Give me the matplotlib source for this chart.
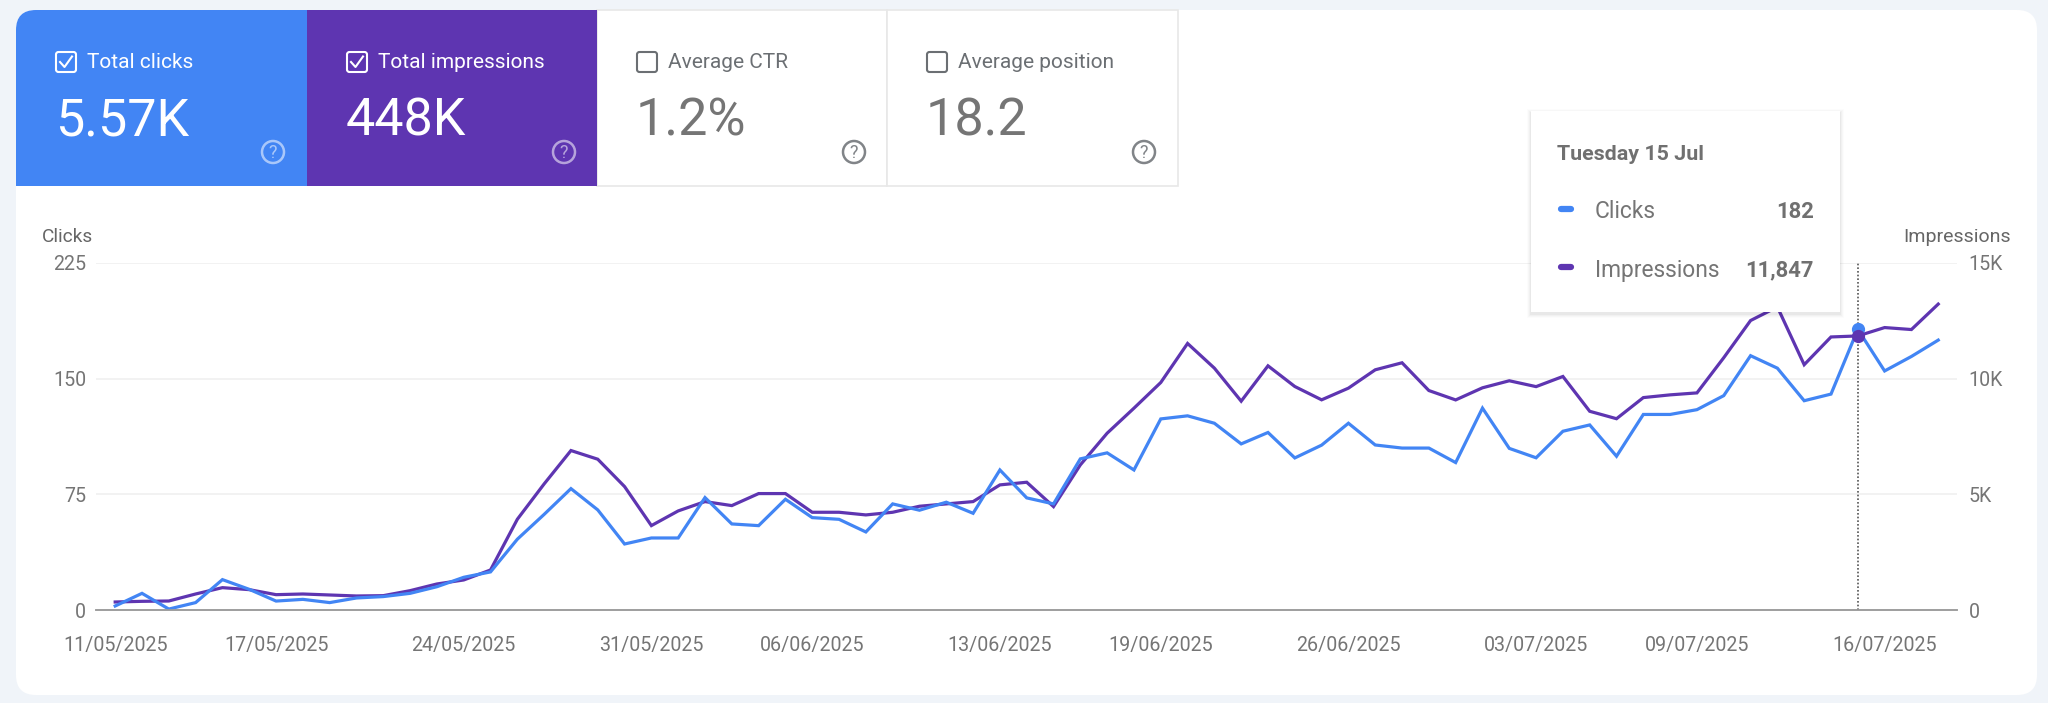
import matplotlib
matplotlib.use("Agg")
import matplotlib.pyplot as plt
import pandas as pd
from matplotlib.patches import Circle, FancyBboxPatch, Rectangle

plt.rcParams['font.family'] = ['Roboto', 'DejaVu Sans']

# Daily values, 11 May to 18 Jul 2025
clicks = [2.6, 10.8, 0.6, 4.8, 19.7, 13.4, 5.8, 6.9, 4.8, 7.8,
          8.7, 10.8, 15.1, 21.2, 24.7, 45.9, 62, 78.7, 64.9, 42.8,
          46.7, 46.7, 72.9, 55.8, 54.7, 71.8, 59.9, 58.8, 50.6, 68.8,
          64.7, 69.9, 62.7, 90.8, 72.7, 68.8, 98, 101.9, 90.8, 123.9,
          125.9, 121.1, 107.7, 115.1, 98.6, 106.9, 121.1, 107, 105, 105,
          95.6, 130.9, 104.8, 98.7, 115.9, 120, 99.7, 126.8, 126.8, 129.9,
          139, 164.9, 156.8, 135.7, 140, 182, 155, 164.4, 175]
impressions = [346, 375, 389, 692, 966, 880, 663, 692, 649, 606,
               620, 836, 1125, 1298, 1730, 3922, 5451, 6893, 6518, 5335,
               3648, 4283, 4686, 4513, 5033, 5033, 4225, 4225, 4110, 4225,
               4485, 4586, 4686, 5408, 5523, 4470, 6273, 7643, 8724, 9834,
               11522, 10455, 9027, 10555, 9661, 9085, 9590, 10383, 10687, 9487,
               9081, 9605, 9909, 9656, 10095, 8590, 8269, 9182, 9300, 9385,
               10907, 12513, 13100, 10603, 11803, 11847, 12209, 12124, 13224]

first_day = '2025-05-11'
date_ticks = ['2025-05-11', '2025-05-17', '2025-05-24', '2025-05-31', '2025-06-06', '2025-06-13',
              '2025-06-19', '2025-06-26', '2025-07-03', '2025-07-09', '2025-07-16']
date_labels = ['11/05/2025', '17/05/2025', '24/05/2025', '31/05/2025', '06/06/2025', '13/06/2025',
               '19/06/2025', '26/06/2025', '03/07/2025', '09/07/2025', '16/07/2025']
click_ticks = [0, 75, 150, 225]
impression_ticks = [0, 5000, 10000, 15000]
impression_labels = ['0', '5K', '10K', '15K']
hover_day = '2025-07-15'

tile_titles = ['Total clicks', 'Total impressions', 'Average CTR', 'Average position']
tile_values = ['5.57K', '448K', '1.2%', '18.2']

BLUE = '#4285f4'
PURPLE = '#5e35b1'
GREY = '#757575'
W, H = 2048, 703


def draw_tile(bg, left, right, title, value, fill, card):
    active = fill is not None
    if active:
        r = Rectangle((left, 10), right - left, 176, fc=fill, ec='none', zorder=2)
        bg.add_patch(r)
        r.set_clip_path(card)
    else:
        bg.add_patch(Rectangle((left, 10), right - left, 176, fc='white', ec='#e8e8e8', lw=1.2, zorder=1))

    fg = 'white' if active else '#6b6f73'
    # Checkbox
    bg.add_patch(FancyBboxPatch((left + 40, 52), 20, 20, boxstyle='round,pad=0,rounding_size=2.5',
                                fc='none', ec=fg, lw=1.5, zorder=3))
    if active:
        bg.plot([left + 44, left + 48.5, left + 56], [62, 67, 56.5], color='white', lw=1.5, zorder=3)

    bg.text(left + 71, 62, title, color=fg, fontsize=15, va='center', ha='left', zorder=3)
    bg.text(left + 39, 122, value, color='white' if active else GREY, fontsize=37.5,
            va='center', ha='left', zorder=3)

    # Help icon
    icon = fg if not active else 'white'
    alpha = 0.55 if active else 0.85
    bg.add_patch(Circle((left + 257, 152), 11, fc='none', ec=icon, lw=1.8, alpha=alpha, zorder=3))
    bg.text(left + 257, 152.5, '?', color=icon, alpha=alpha, fontsize=13, ha='center', va='center', zorder=3)


def draw_tooltip(top):
    # Soft shadow under the box, heavier towards the bottom
    for grow, alpha in [(4, 0.012), (3, 0.018), (2, 0.025), (1, 0.035)]:
        top.add_patch(Rectangle((1531 - grow, 111 - grow + 2), 309 + 2 * grow, 201 + 2 * grow,
                                fc='black', ec='none', alpha=alpha))
    top.add_patch(Rectangle((1531, 111), 309, 201, fc='white', ec='none'))
    top.text(1557, 154, 'Tuesday 15 Jul', color='#707070', fontsize=15.4, fontweight='bold', va='center')
    top.text(1595, 212, 'Clicks', color=GREY, fontsize=16.4, va='center')
    top.text(1595, 270, 'Impressions', color=GREY, fontsize=16.4, va='center')
    top.text(1814, 212, '182', color='#707070', fontsize=15.8, fontweight='bold', ha='right', va='center')
    top.text(1814, 270, '11,847', color='#707070', fontsize=15.8, fontweight='bold', ha='right', va='center')
    top.plot([1561, 1571], [209, 209], color=BLUE, lw=4.5, solid_capstyle='round')
    top.plot([1561, 1571], [267, 267], color=PURPLE, lw=4.5, solid_capstyle='round')


def main():
    fig = plt.figure(figsize=(W / 100, H / 100), dpi=100, facecolor='#f0f4f9')

    # Card and tiles, in pixel coordinates
    bg = fig.add_axes([0, 0, 1, 1], zorder=0)
    bg.set_xlim(0, W)
    bg.set_ylim(H, 0)
    bg.axis('off')
    card = FancyBboxPatch((16, 10), 2021, 685, boxstyle='round,pad=0,rounding_size=20',
                          fc='white', ec='none', zorder=0)
    bg.add_patch(card)
    edges = [16, 307, 597, 887, 1178]
    fills = [BLUE, PURPLE, None, None]
    for i in range(4):
        draw_tile(bg, edges[i], edges[i + 1], tile_titles[i], tile_values[i], fills[i], card)

    # Chart, plotted area is x 96-1957 and y 263-610 in pixels
    days = pd.date_range(first_day, periods=len(clicks))
    ax = fig.add_axes([96 / W, 1 - 610 / H, (1957 - 96) / W, (610 - 263) / H], zorder=2)
    ax2 = ax.twinx()
    ax.set_zorder(ax2.get_zorder() + 1)
    ax.patch.set_visible(False)
    ax2.patch.set_visible(False)

    ax2.plot(days, impressions, color=PURPLE, lw=2.3, solid_joinstyle='miter')
    ax.plot(days, clicks, color=BLUE, lw=2.3, solid_joinstyle='miter')

    one_day = pd.Timedelta(days=1)
    ax.set_xlim(days[0] - 0.716 * one_day, days[-1] + 0.7 * one_day)
    ax.set_ylim(0, 225)
    ax2.set_ylim(0, 15000)

    ax.set_xticks(pd.to_datetime(date_ticks))
    ax.set_xticklabels(date_labels)
    ax.set_yticks(click_ticks)
    ax2.set_yticks(impression_ticks)
    ax2.set_yticklabels(impression_labels)
    ax.tick_params(axis='x', length=0, pad=19, labelsize=14.1, labelcolor=GREY)
    ax.tick_params(axis='y', length=0, pad=7, labelsize=14.1, labelcolor=GREY)
    ax2.tick_params(axis='y', length=0, pad=8.3, labelsize=14.1, labelcolor=GREY)

    # Grid on the lower axes so it stays behind both lines
    ax2.grid(axis='y', color='#f0f0f0', lw=1.2)
    ax2.set_axisbelow(True)
    for a in (ax, ax2):
        for side in ('top', 'left', 'right'):
            a.spines[side].set_visible(False)
        a.spines['bottom'].set_color('#9e9e9e')
        a.spines['bottom'].set_linewidth(1.2)

    # Hover line and points
    hover = pd.Timestamp(hover_day)
    idx = list(days).index(hover)
    ax.axvline(hover, color='#555555', lw=1.2, ls=(0, (1, 1.2)), zorder=1)
    ax.plot([hover], [clicks[idx]], 'o', color=BLUE, ms=8.5, zorder=4)
    ax.plot([hover], [impressions[idx]], 'o', color=PURPLE, ms=8.5, zorder=5, transform=ax2.transData)

    # Axis titles and tooltip on top of everything
    top = fig.add_axes([0, 0, 1, 1], zorder=5)
    top.set_xlim(0, W)
    top.set_ylim(H, 0)
    top.axis('off')
    top.patch.set_visible(False)
    top.text(42, 236.5, 'Clicks', color='#666666', fontsize=13.8, va='center', ha='left')
    top.text(2011, 236.5, 'Impressions', color='#666666', fontsize=14, va='center', ha='right')
    draw_tooltip(top)

    fig.savefig('out.png', dpi=100, facecolor=fig.get_facecolor())


if __name__ == "__main__":
    main()
